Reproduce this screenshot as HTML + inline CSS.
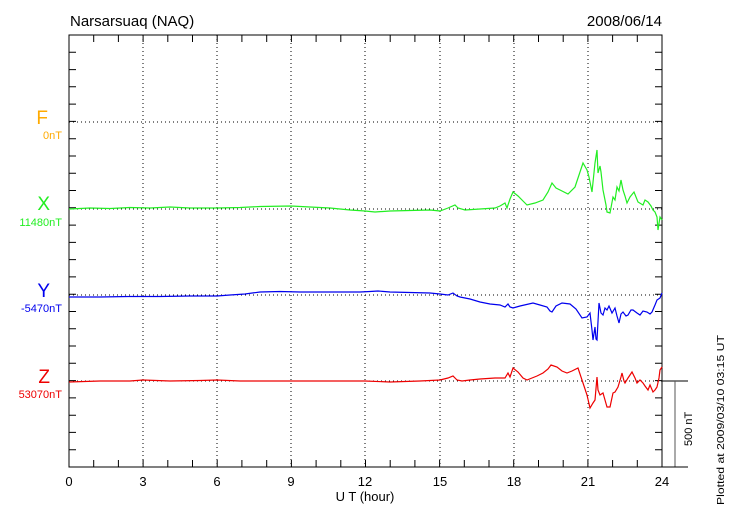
<!DOCTYPE html>
<html><head><meta charset="utf-8"><style>
body{margin:0;background:#fff;}
svg{display:block;font-family:"Liberation Sans",sans-serif;}
</style></head><body>
<svg width="730" height="520" viewBox="0 0 730 520" xmlns="http://www.w3.org/2000/svg">
<rect width="730" height="520" fill="#fff"/>
<text x="70" y="26" font-size="15">Narsarsuaq (NAQ)</text>
<text x="662" y="26" font-size="15" text-anchor="end">2008/06/14</text>
<g stroke="#000" stroke-width="1" stroke-dasharray="1,3">
<line x1="143" y1="35" x2="143" y2="467"/><line x1="217" y1="35" x2="217" y2="467"/>
<line x1="291" y1="35" x2="291" y2="467"/><line x1="365" y1="35" x2="365" y2="467"/>
<line x1="440" y1="35" x2="440" y2="467"/><line x1="514" y1="35" x2="514" y2="467"/>
<line x1="588" y1="35" x2="588" y2="467"/>
<line x1="69" y1="122" x2="662" y2="122"/><line x1="69" y1="209" x2="662" y2="209"/>
<line x1="69" y1="295" x2="662" y2="295"/><line x1="69" y1="381" x2="662" y2="381"/>
</g>
<path stroke="#000" stroke-width="1" fill="none" d="
M93.7 467v-7M118.4 467v-7M143.1 467v-7M167.8 467v-7M192.5 467v-7M217.2 467v-7M241.9 467v-7M266.7 467v-7M291.4 467v-7M316.1 467v-7M340.8 467v-7M365.5 467v-7M390.2 467v-7M414.9 467v-7M439.6 467v-7M464.3 467v-7M489 467v-7M513.7 467v-7M538.5 467v-7M563.2 467v-7M587.9 467v-7M612.6 467v-7M637.3 467v-7
M93.7 35v7M118.4 35v7M143.1 35v7M167.8 35v7M192.5 35v7M217.2 35v7M241.9 35v7M266.7 35v7M291.4 35v7M316.1 35v7M340.8 35v7M365.5 35v7M390.2 35v7M414.9 35v7M439.6 35v7M464.3 35v7M489 35v7M513.7 35v7M538.5 35v7M563.2 35v7M587.9 35v7M612.6 35v7M637.3 35v7
M69 52.3h7M69 69.6h7M69 86.8h7M69 104.1h7M69 121.4h7M69 138.7h7M69 156h7M69 173.2h7M69 190.5h7M69 207.8h7M69 225.1h7M69 242.4h7M69 259.6h7M69 276.9h7M69 294.2h7M69 311.5h7M69 328.8h7M69 346h7M69 363.3h7M69 380.6h7M69 397.9h7M69 415.2h7M69 432.4h7M69 449.7h7
M662 52.3h-7M662 69.6h-7M662 86.8h-7M662 104.1h-7M662 121.4h-7M662 138.7h-7M662 156h-7M662 173.2h-7M662 190.5h-7M662 207.8h-7M662 225.1h-7M662 242.4h-7M662 259.6h-7M662 276.9h-7M662 294.2h-7M662 311.5h-7M662 328.8h-7M662 346h-7M662 363.3h-7M662 380.6h-7M662 397.9h-7M662 415.2h-7M662 432.4h-7M662 449.7h-7"/>
<rect x="69" y="35" width="593" height="432" fill="none" stroke="#000" stroke-width="1"/>
<g font-size="13" text-anchor="middle">
<text x="69" y="486">0</text><text x="143" y="486">3</text><text x="217" y="486">6</text>
<text x="291" y="486">9</text><text x="365" y="486">12</text><text x="440" y="486">15</text>
<text x="514" y="486">18</text><text x="588" y="486">21</text><text x="662" y="486">24</text>
<text x="365" y="501">U T (hour)</text>
</g>
<g text-anchor="end">
<text x="48" y="124" font-size="19" fill="#ffaa00">F</text>
<text x="62" y="139" font-size="11" fill="#ffaa00">0nT</text>
<text x="50" y="210" font-size="19" fill="#22ee22">X</text>
<text x="62" y="226" font-size="11" fill="#22ee22">11480nT</text>
<text x="50" y="297" font-size="19" fill="#0000ee">Y</text>
<text x="62" y="312" font-size="11" fill="#0000ee">-5470nT</text>
<text x="50" y="383" font-size="19" fill="#ee0000">Z</text>
<text x="62" y="398" font-size="11" fill="#ee0000">53070nT</text>
</g>
<line x1="662" y1="381" x2="688" y2="381" stroke="#000"/>
<line x1="675" y1="381" x2="675" y2="467" stroke="#555"/>
<line x1="662" y1="467" x2="688" y2="467" stroke="#000"/>
<text font-size="11" transform="translate(692,446) rotate(-90)">500 nT</text>
<text font-size="10" textLength="170" lengthAdjust="spacingAndGlyphs" transform="translate(724,505) rotate(-90)">Plotted at 2009/03/10 03:15 UT</text>
<polyline fill="none" stroke="#22ee22" stroke-width="1.2" points="69,209 90,208 110,208.5 130,207.5 150,208 170,207 190,208 217,208 240,207.5 260,206.5 291,206 310,207 330,208 350,210 365,211 375,212 390,211 410,210.5 430,210 440,211 448,208 455,205 458,208 465,210 480,209 495,208 500,206 505,203 507,208 510,199 513,192 518,196 523,201 527,205 535,203 543,200 548,192 552,183 556,188 560,190 568,194 575,187 583,163 587,170 589,177 592,192 595,163 597,150 598,173 600,166 601,172 603,190 606,205 607,212 610,213 613,197 615,200 617,187 619,191 621,180 623,190 625,196 627,203 630,197 634,192 638,202 643,205 645,200 648,202 651,206 653,210 655,212 657,217 658,230 660,217 662,220"/>
<polyline fill="none" stroke="#0000ee" stroke-width="1.2" points="69,297 100,297 130,296.5 160,296.5 190,296 217,296 230,295 245,294 260,292 280,291.5 300,292 330,292 360,292 370,291.5 378,291 390,292 410,292.5 430,293 440,294 448,295 453,293 457,296 460,297 470,299 480,302 490,304 500,305 505,307 508,304 510,307 513,308 520,306 533,303 540,305 547,307 550,311 552,312 556,306 562,303 570,304 576,309 582,318 587,317 590,313 592,330 593,340 595,327 596,339 597,340 599,303 601,313 603,315 605,308 607,310 609,306 612,313 615,308 617,316 619,323 621,314 623,312 626,316 628,315 631,310 633,310 637,313 640,315 643,311 647,312 650,314 652,312 655,305 657,300 660,298 662,293"/>
<polyline fill="none" stroke="#ee0000" stroke-width="1.2" points="69,382 100,381 130,381 143,380 170,381 200,380.5 217,380 240,381 270,381 300,381 330,381 365,381 390,382 420,381 440,380 448,378 453,376 457,380 462,381 470,380 480,379 495,378 505,378 508,373 510,377 513,368 518,372 523,378 527,380 532,378 537,376 543,373 548,369 551,365 557,367 562,371 567,373 572,371 578,368 583,383 587,395 590,408 593,403 595,400 597,377 598,390 600,395 603,393 605,400 607,407 610,407 613,393 615,392 618,387 621,377 622,373 624,381 625,383 628,378 632,372 635,378 637,383 640,380 643,383 645,386 648,390 650,385 653,392 655,390 657,387 659,378 660,370 662,367"/>
</svg>
</body></html>
